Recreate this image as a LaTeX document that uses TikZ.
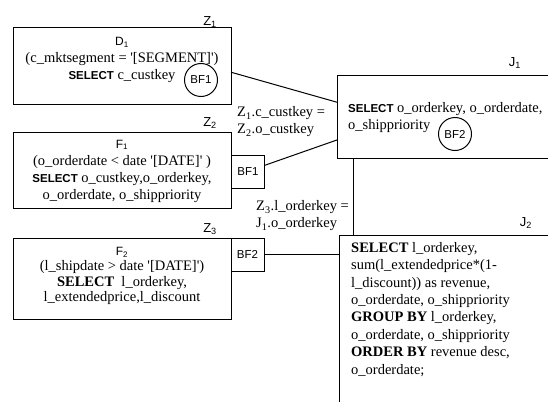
\documentclass[tikz,border=0pt]{standalone}
\usepackage{fontspec}
\setmainfont{Liberation Serif}
\setsansfont{Liberation Sans}
\usepackage{tikz}
\usetikzlibrary{positioning,calc}
\tikzstyle{query}=[draw, line width=1pt, minimum width=218pt, inner sep=0pt, outer sep=0pt]
\tikzstyle{joinbox}=[draw, line width=1pt, minimum width=240pt, inner sep=0pt, outer sep=0pt]
\tikzstyle{filter}=[draw, line width=1pt, minimum width=33pt, minimum height=33pt,
inner sep=0pt, outer sep=0pt, font=\sffamily\fontsize{11.5}{13}\selectfont]
\tikzstyle{bloom}=[filter, circle, minimum size=33pt]
\tikzstyle{tag}=[inner sep=0pt, font=\sffamily\fontsize{13}{14}\selectfont]
\tikzstyle{sql}=[inner sep=0pt, align=center, font=\fontsize{14.5}{17}\selectfont]
\tikzstyle{cond}=[sql, align=left]
\tikzstyle{line}=[draw, line width=1pt]
\newcommand{\kw}[1]{{\sffamily\bfseries\fontsize{11.5}{13}\selectfont #1}}
\newcommand{\sub}[1]{\textsubscript{#1}}
\newcommand{\rel}[1]{{\sffamily\fontsize{12}{13}\selectfont #1}}
\newcommand{\q}{\textquotesingle}

\begin{document}
\begin{tikzpicture}[x=1pt,y=-1pt]
	\clip (0,0) rectangle (548,401);

	% Draw diagram elements
	\node[query, minimum height=77pt] (d1) at (122,66.5) {};
	\node[query, minimum height=76pt] (f1) at (122,170) {};
	\node[query, minimum height=81pt] (f2) at (122,278.5) {};
	\node[filter, anchor=west] (bf1) at (231.5,172) {BF1};
	\node[filter, anchor=north west] (bf2) at (f2.north east) {BF2};
	\node[joinbox, minimum height=82pt, anchor=north west] (j1) at (337,76) {};
	\node[joinbox, minimum height=190pt, anchor=north west] (j2) at (339,235) {};
	\node[bloom] (c1) at (201,80) {BF1};
	\node[bloom] (c2) at (455,134) {BF2};

	% Texts in the boxes
	\node[sql, below=9pt of d1.north] (t1) {\rel{D\sub{1}}\\
		(c\_mktsegment = \q[SEGMENT]\q)\\
		\kw{SELECT} c\_custkey};
	\node[sql] (t2) at (122,171) {\rel{F\sub{1}}\\
		(o\_orderdate < date \q[DATE]\q\ )\\
		\kw{SELECT} o\_custkey,o\_orderkey,\\
		o\_orderdate, o\_shippriority};
	\node[sql, font=\fontsize{14.5}{15.5}\selectfont] (t3) at (122,276) {\rel{F\sub{2}}\\
		(l\_shipdate > date \q[DATE]\q)\\
		\textbf{SELECT}\ \ l\_orderkey,\\
		l\_extendedprice,l\_discount};
	\node[cond, anchor=north west] (t4) at (348,102) {\kw{SELECT} o\_orderkey, o\_orderdate,\\
		o\_shippriority};
	\node[cond, anchor=north west, font=\fontsize{14.5}{17.4}\selectfont] (t5) at (351,242) {\textbf{SELECT} l\_orderkey,\\
		sum(l\_extendedprice*(1-\\
		l\_discount)) as revenue,\\
		o\_orderdate, o\_shippriority\\
		\textbf{GROUP BY} l\_orderkey,\\
		o\_orderdate, o\_shippriority\\
		\textbf{ORDER BY} revenue desc,\\
		o\_orderdate;};

	% Names of the parts
	\node[tag] (z1) at (210,22) {Z\sub{1}};
	\node[tag] (z2) at (210,123) {Z\sub{2}};
	\node[tag] (z3) at (210,229) {Z\sub{3}};
	\node[tag] (n1) at (515,63) {J\sub{1}};
	\node[tag] (n2) at (526,223) {J\sub{2}};

	% Join conditions
	\node[cond, anchor=west] (k1) at (237,122) {Z\sub{1}.c\_custkey =\\Z\sub{2}.o\_custkey};
	\node[cond, anchor=west] (k2) at (256,216) {Z\sub{3}.l\_orderkey =\\J\sub{1}.o\_orderkey};

	% Draw lines between elements
	\path [line] (d1.-3) -- ($(j1.north west)!0.32!(j1.south west)$);
	\path [line] ($(bf1.north east)!0.3!(bf1.south east)$) -- ($(j1.north west)!0.78!(j1.south west)$);
	\path [line] ([xshift=16pt]j1.south west) coordinate (v) -- (v |- j2.north);
	\path [line] (bf2.east) -- (bf2.east -| j2.west);
\end{tikzpicture}
\end{document}
